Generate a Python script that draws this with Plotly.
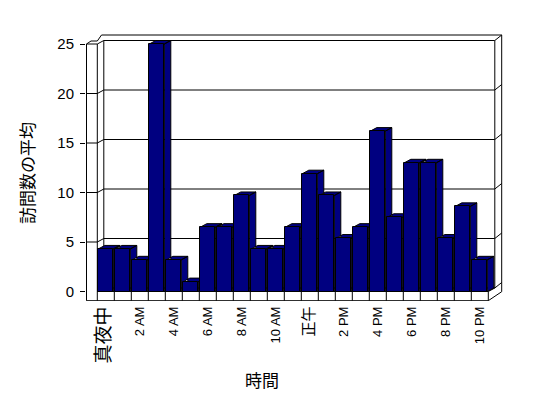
import plotly.graph_objects as go

# ---------------- data ----------------
hours = ["真夜中", "1 AM", "2 AM", "3 AM", "4 AM", "5 AM", "6 AM", "7 AM", "8 AM", "9 AM",
         "10 AM", "11 AM", "正午", "1 PM", "2 PM", "3 PM", "4 PM", "5 PM", "6 PM", "7 PM",
         "8 PM", "9 PM", "10 PM"]
visits = [4.3, 4.3, 3.2, 25.0, 3.2, 1.0, 6.5, 6.5, 9.7, 4.3, 4.3, 6.5, 11.9, 9.7, 5.4,
          6.5, 16.2, 7.5, 13.0, 13.0, 5.4, 8.6, 3.2]
y_ticks = [0, 5, 10, 15, 20, 25]
x_title = "時間"
y_title = "訪問数の平均"

# ---------------- geometry (window pixels -> data) ----------------
OFF = 8                      # page body margin
WIN_W, WIN_H = 548, 398
W, H = WIN_W - OFF, WIN_H - OFF
PL, PR, PT, PB = 86, 503, 34, 301   # plot area in window pixels
ML, MR, MT, MB = PL - OFF, W - (PR - OFF), PT - OFF, H - (PB - OFF)
CAT_PX, X0_PX = 17.0, 105.8
VAL_PX, Y0_PX = 9.9, 291.5


def X(px):
    return (px - X0_PX) / CAT_PX


def Y(py):
    return (Y0_PX - py) / VAL_PX


def PX(px):
    return (px - PL) / (PR - PL)


def PY(py):
    return (PB - py) / (PB - PT)


x_range = [X(PL), X(PR)]
y_range = [Y(PB), Y(PT)]

BW = 15 / CAT_PX
DX, DY = 6.5 / CAT_PX, 3.5 / VAL_PX
OX, OY = 13.4 / CAT_PX, 9.0 / VAL_PX
NAVY = "#000080"
n = len(visits)
XL, XRt = -0.5, n - 0.5
YBOT = Y(300.7)
XFRONT = X(86.5)

# ---------------- 3D faces (side + top) ----------------
px, py = [], []
for i, v in enumerate(visits):
    l, r = i - BW / 2, i + BW / 2
    px += [r, r + DX, r + DX, r, r, None]
    py += [0, DY, v + DY, v, 0, None]
    px += [l, l + DX, r + DX, r, l, None]
    py += [v, v + DY, v + DY, v, v, None]

faces = go.Scatter(x=px, y=py, mode="lines", fill="toself", fillcolor=NAVY,
                   line=dict(color="black", width=1), hoverinfo="skip",
                   showlegend=False, xaxis="x", yaxis="y")

front = go.Bar(x=list(range(n)), y=visits, width=BW, marker=dict(color=NAVY,
               line=dict(color="black", width=1)), showlegend=False,
               xaxis="x2", yaxis="y2", hovertext=hours)

# ---------------- walls / floor / grid ----------------
shapes = []
LN = dict(color="black", width=1)


def seg(x0, y0, x1, y1):
    shapes.append(dict(type="line", xref="x", yref="y", x0=x0, y0=y0, x1=x1, y1=y1,
                       line=LN, layer="below"))


def poly(points):
    d = "M " + " L ".join(f"{a},{b}" for a, b in points)
    shapes.append(dict(type="path", xref="x", yref="y", path=d, line=LN,
                       fillcolor="rgba(0,0,0,0)", layer="below"))


seg(XFRONT, YBOT, XFRONT, 25)
seg(XL, 0, XL, 25)
seg(XFRONT, YBOT, XRt, YBOT)
seg(XL, 0, XRt, 0)
for k in range(n + 1):
    seg(k - 0.5, YBOT, k - 0.5, 0)
for v in y_ticks:
    if v > 0:
        seg(XFRONT, v, XL, v)
    seg(XL, v, XL + DX, v + DY)
    seg(XL + DX, v + DY, XRt + DX, v + DY)
    seg(XRt + DX, v + DY, XRt + OX, v + OY)
seg(XL + DX, DY, XL + DX, 25 + DY)
seg(XRt + DX, DY, XRt + DX, 25 + DY)
seg(XRt, 0, XRt + DX, DY)
poly([(XFRONT, 25), (X(91), Y(41)), (XL, Y(41)), (X(101.5), 25 + OY),
      (XRt + OX, 25 + OY), (XRt + OX, YBOT + OY), (XRt, YBOT)])

fig = go.Figure([faces, front])

FONT = "Liberation Sans, Arial, Noto Sans CJK JP, sans-serif"
CJK_SIZES = {"真夜中": 19, "正午": 15}
ticktext = []
for i in range(0, n, 2):
    t = hours[i]
    if t in CJK_SIZES:
        t = (f'<span style="font-size:{CJK_SIZES[t]}px;color:black;'
             f'font-family:Noto Sans CJK JP">{t}</span>')
    ticktext.append(t)

fig.update_layout(
    width=W, height=H,
    margin=dict(l=ML, r=MR, t=MT, b=MB, pad=0),
    paper_bgcolor="white", plot_bgcolor="white",
    font=dict(family=FONT, color="black", size=13),
    shapes=shapes,
    bargap=0,
    xaxis=dict(range=x_range, tickvals=list(range(0, n, 2)), ticktext=ticktext,
               tickangle=-90, ticks="", showgrid=False, zeroline=False, showline=False,
               tickfont=dict(size=13, family=FONT, color="black"), ticklabelstandoff=2,
               fixedrange=True),
    yaxis=dict(range=y_range, tickvals=y_ticks, ticks="outside", ticklen=5,
               tickcolor="black", showgrid=False, zeroline=False, showline=False,
               tickfont=dict(size=15, family=FONT, color="black"), ticklabelstandoff=3,
               fixedrange=True),
    xaxis2=dict(range=x_range, overlaying="x", visible=False, fixedrange=True),
    yaxis2=dict(range=y_range, overlaying="y", visible=False, fixedrange=True),
    annotations=[
        dict(text=x_title, xref="paper", yref="paper", x=PX(262), y=PY(379),
             showarrow=False, font=dict(size=17, family="Noto Sans CJK JP", color="black"),
             xanchor="center", yanchor="middle"),
        dict(text=y_title, xref="paper", yref="paper", x=PX(27), y=PY(173),
             showarrow=False, textangle=-90,
             font=dict(size=17, family="Noto Sans CJK JP", color="black"),
             xanchor="center", yanchor="middle"),
    ],
)

fig.write_html("out.html")
